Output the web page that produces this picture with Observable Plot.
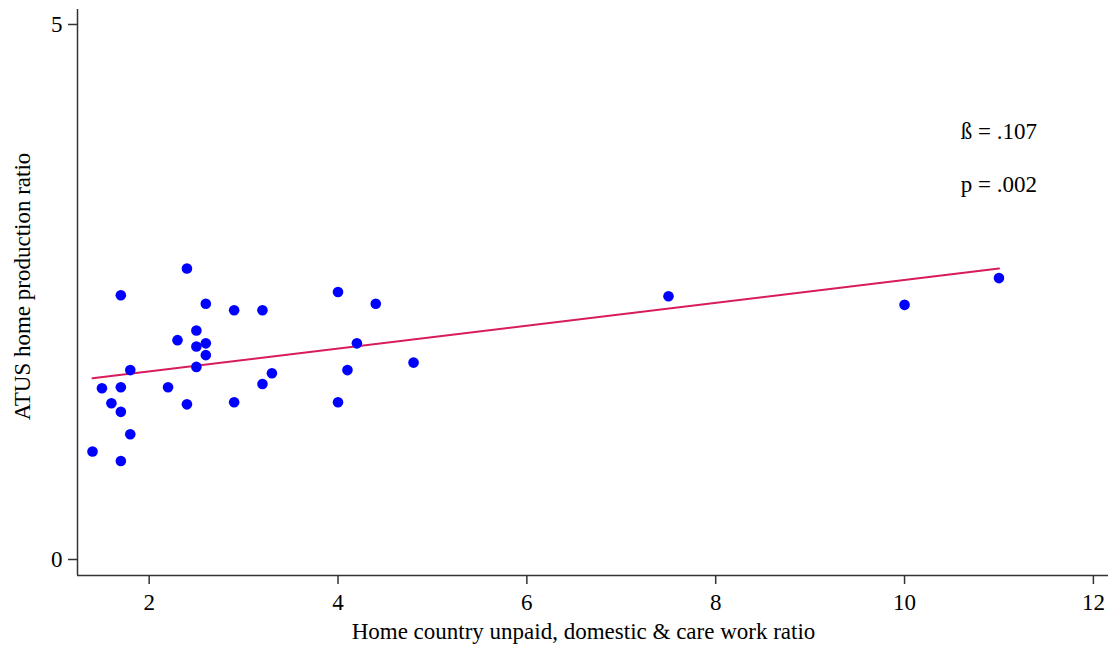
<!DOCTYPE html>
<html>
<head>
<meta charset="utf-8">
<script src="https://cdn.jsdelivr.net/npm/d3@7"></script>
<script src="https://cdn.jsdelivr.net/npm/@observablehq/plot@0.6"></script>
<style>
  html, body { margin: 0; padding: 0; background: #fff; }
  #chart svg { display: block; }
</style>
</head>
<body>
<div id="chart"></div>
<script>
// Country-level ratios: home country unpaid/domestic/care work vs ATUS home production
const homeCountryRatio = [
  1.4, 1.5, 1.6, 1.7, 1.7, 1.7, 1.7, 1.8, 1.8, 2.2, 2.3, 2.4, 2.4,
  2.5, 2.5, 2.5, 2.6, 2.6, 2.6, 2.9, 2.9, 3.2, 3.2, 3.3,
  4.0, 4.0, 4.1, 4.2, 4.4, 4.8, 7.5, 10.0, 11.0
];
const atusRatio = [
  1.01, 1.60, 1.46, 2.47, 1.61, 1.38, 0.92, 1.77, 1.17, 1.61, 2.05, 2.72, 1.45,
  2.14, 1.99, 1.80, 2.39, 2.02, 1.91, 2.33, 1.47, 2.33, 1.64, 1.74,
  2.50, 1.47, 1.77, 2.02, 2.39, 1.84, 2.46, 2.38, 2.63
];

// Fitted OLS line
const slope = 0.107;
const intercept = 1.543;
const fitExtent = [1.4, 11];

// Regression statistics shown in the panel
const statLabels = ["ß = .107", "p = .002"];
const statY = [4, 3.5];
const statX = 11;

const xTicks = [2, 4, 6, 8, 10, 12];
const yTicks = [0, 5];
const xTitle = "Home country unpaid, domestic & care work ratio";
const yTitle = "ATUS home production ratio";

const points = homeCountryRatio.map((x, i) => ({x, y: atusRatio[i]}));
const fit = fitExtent.map(x => ({x, y: intercept + slope * x}));
const stats = statLabels.map((t, i) => ({t, x: statX, y: statY[i]}));

const serif = "'Liberation Serif', 'Times New Roman', Times, serif";

const chart = Plot.plot({
  width: 1110,
  height: 648,
  marginLeft: 77,
  marginRight: 2,
  marginTop: 9,
  marginBottom: 73,
  style: { fontFamily: serif, fontSize: "23px", color: "#000", background: "#fff" },
  x: { domain: [1.241, 12.16] },
  y: { domain: [-0.1495, 5.14] },
  marks: [
    Plot.axisX({
      ticks: xTicks, tickSize: 9, tickPadding: 9, tickFormat: d => String(d),
      stroke: "#333", strokeWidth: 1.5, fill: "#000", label: null
    }),
    Plot.axisY({
      ticks: yTicks, tickSize: 9, tickPadding: 6, tickFormat: d => String(d),
      stroke: "#333", strokeWidth: 1.5, fill: "#000", label: null
    }),
    // axis titles
    Plot.text([xTitle], {
      frameAnchor: "bottom", lineAnchor: "bottom", dx: -9.5, dy: 63,
      fill: "#000", fontSize: 23
    }),
    Plot.text([yTitle], {
      frameAnchor: "left", textAnchor: "middle", lineAnchor: "bottom",
      rotate: -90, dx: -48, dy: -6, fill: "#000", fontSize: 23
    }),
    Plot.ruleX([1.241], { stroke: "#333", strokeWidth: 1.5 }),
    Plot.ruleY([-0.1495], { stroke: "#333", strokeWidth: 1.5 }),
    Plot.line(fit, { x: "x", y: "y", stroke: "#d71b5d", strokeWidth: 2 }),
    Plot.dot(points, { x: "x", y: "y", r: 5.3, fill: "#0000ff", stroke: "none" }),
    Plot.text(stats, { x: "x", y: "y", text: "t", fill: "#000", fontSize: 23, textAnchor: "middle" })
  ]
});

document.getElementById("chart").appendChild(chart);
</script>
</body>
</html>
